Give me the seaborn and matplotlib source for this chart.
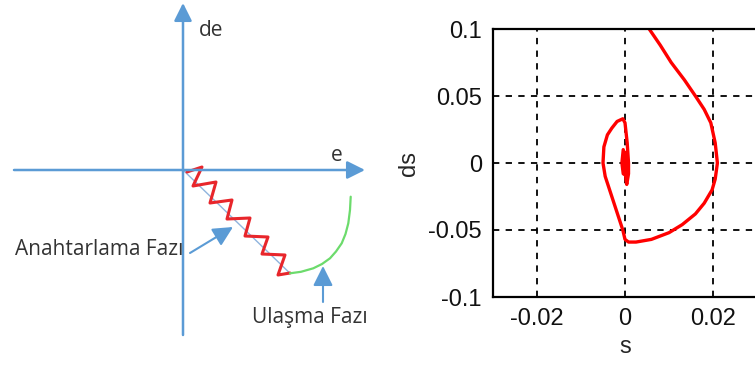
import matplotlib
matplotlib.use("Agg")
import matplotlib.pyplot as plt
import seaborn as sns
import pandas as pd

# ---------------- data ----------------
# right panel: phase trajectory (s, ds)
traj_s = [0.0055, 0.0080, 0.0105, 0.0135, 0.0160, 0.0180, 0.0195, 0.0205, 0.0210,
          0.0205, 0.0198, 0.0180, 0.0160, 0.0130, 0.0100, 0.0060, 0.0025, 0.0008,
          0.0000, -0.0005, -0.0015, -0.0030, -0.0045, -0.0050, -0.0048, -0.0040,
          -0.0030, -0.0018, -0.0005, 0.0000, 0.0005, 0.0008, 0.0008, 0.0004,
          0.0002, 0.0001, -0.0004, -0.0007, -0.0004, 0.0005, 0.0006, 0.0000, -0.0003]
traj_ds = [0.100, 0.088, 0.075, 0.062, 0.050, 0.040, 0.030, 0.015, 0.000,
           -0.012, -0.020, -0.030, -0.038, -0.046, -0.052, -0.057, -0.059, -0.059,
           -0.057, -0.050, -0.040, -0.025, -0.010, 0.000, 0.012, 0.021,
           0.026, 0.031, 0.033, 0.030, 0.015, 0.000, -0.008, -0.016,
           -0.012, 0.000, 0.010, 0.000, -0.008, -0.010, 0.000, 0.008, 0.000]
x_ticks = [-0.02, 0, 0.02]
x_tick_labels = ["-0.02", "0", "0.02"]
y_ticks = [-0.1, -0.05, 0, 0.05, 0.1]
y_tick_labels = ["-0.1", "-0.05", "0", "0.05", "0.1"]

# left panel: schematic (e, de) in sketch units
zig_e = [4, 19, 10, 33, 27, 49, 44, 67, 62, 85, 79, 102, 95, 107]
zig_de = [-2, 3, -16, -12, -33, -30, -49, -48, -66, -67, -84, -85, -105, -103]
slide_e = [0.0, 107.0]
slide_de = [0.0, -103.3]
reach_e = [107.0, 118.0, 130.3, 139.0, 147.0, 153.0, 158.7, 162.5, 165.3, 167.0, 167.7]
reach_de = [-103.3, -101.8, -98.3, -94.0, -88.3, -81.5, -73.3, -64.0, -53.3, -40.0, -26.7]
label_switch = "Anahtarlama Fazı"
label_reach = "Ulaşma Fazı"

# ---------------- figure ----------------
sns.set_theme(style="white")
plt.rcParams['font.family'] = ['Liberation Sans', 'DejaVu Sans']

W, H = 755, 369
fig = plt.figure(figsize=(W / 100, H / 100), dpi=100)

# ----- left schematic -----
axL = fig.add_axes([0, 0, 380 / W, 1])
axL.set_xlim(-183, 197)
axL.set_ylim(-199, 170)
axL.axis("off")
blue = "#5B9BD5"
arr = dict(arrowstyle="-|>,head_length=0.9,head_width=0.45", color=blue, lw=1.8,
           shrinkA=0, shrinkB=0)
axL.annotate("", xy=(0, 167), xytext=(0, -165), arrowprops=arr)
axL.annotate("", xy=(182, 0), xytext=(-169, 0), arrowprops=arr)

sns.lineplot(x=slide_e, y=slide_de, ax=axL, color="#8FB4DE", lw=1.0,
             sort=False, estimator=None)
sns.lineplot(x=zig_e, y=zig_de, ax=axL, color="#E8262B", lw=2.2,
             sort=False, estimator=None)
sns.lineplot(x=reach_e, y=reach_de, ax=axL, color="#6CDB6C", lw=1.6,
             sort=False, estimator=None)

tfont = ['Open Sans', 'DejaVu Sans']
axL.text(16, 140, "de", fontsize=15, color="#333333", va="center", ha="left", family=tfont)
axL.text(154, 14, "e", fontsize=15, color="#333333", va="center", ha="center", family=tfont)
axL.text(-168, -80, label_switch, fontsize=15, color="#333333", va="center", ha="left", family=tfont)
axL.text(127, -148, label_reach, fontsize=15, color="#333333", va="center", ha="center", family=tfont)

arr2 = dict(arrowstyle="-|>,head_length=1.0,head_width=0.5", color=blue, lw=1.5,
            shrinkA=0, shrinkB=0)
axL.annotate("", xy=(50, -57), xytext=(7, -83), arrowprops=arr2)
axL.annotate("", xy=(140, -96), xytext=(140, -132), arrowprops=arr2)

# ----- right phase plot -----
axR = fig.add_axes([493 / W, (H - 297) / H, (757 - 493) / W, (297 - 29) / H])
df = pd.DataFrame({"s": traj_s, "ds": traj_ds})
sns.lineplot(data=df, x="s", y="ds", ax=axR, color="#FF0000", lw=2.4,
             sort=False, estimator=None)
axR.set_xlim(-0.03, 0.03)
axR.set_ylim(-0.1, 0.1)
axR.set_xticks(x_ticks)
axR.set_xticklabels(x_tick_labels)
axR.set_yticks(y_ticks)
axR.set_yticklabels(y_tick_labels)
axR.tick_params(length=0, labelsize=17, pad=8, colors="#111111")
axR.grid(True, color="black", linestyle=(0, (3.5, 3.5)), linewidth=1.3)
for sp in axR.spines.values():
    sp.set_color("black")
    sp.set_linewidth(1.6)
axR.set_xlabel("s", fontsize=17, labelpad=4)
axR.set_ylabel("ds", fontsize=17, labelpad=6)

fig.savefig("out.png", dpi=100)
